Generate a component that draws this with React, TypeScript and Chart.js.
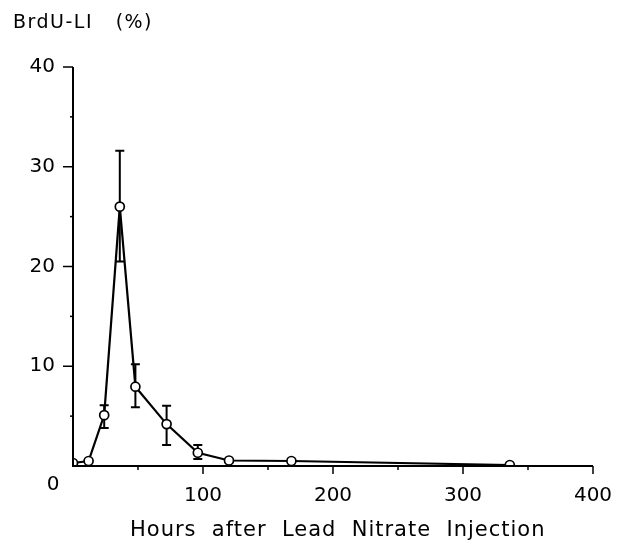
import React, { useEffect, useRef } from "react";
import { Chart, registerables } from "chart.js";

Chart.register(...registerables);

const hours = [0, 12, 24, 36, 48, 72, 96, 120, 168, 336];
const brduLI = [0.3, 0.5, 5.1, 26.0, 7.95, 4.2, 1.33, 0.55, 0.5, 0.1];
const errUpper = [null, null, 6.1, 31.6, 10.2, 6.05, 2.1, null, null, null];
const errLower = [null, null, 3.8, 20.5, 5.9, 2.1, 0.7, null, null, null];
const xTickLabels = [100, 200, 300, 400];
const yTickLabels = [10, 20, 30, 40];
const yTitle = "BrdU-LI   (%)";
const xTitle = "Hours  after  Lead  Nitrate  Injection";

const FONT = "'DejaVu Sans', sans-serif";

const decor = {
  id: "decor",
  beforeDatasetsDraw(chart: any) {
    const ctx = chart.ctx;
    const xs = chart.scales.x;
    const ys = chart.scales.y;
    ctx.save();
    ctx.strokeStyle = "#000";
    ctx.lineWidth = 2;
    hours.forEach((h, i) => {
      const px = xs.getPixelForValue(h);
      const py = ys.getPixelForValue(brduLI[i]);
      const up = errUpper[i];
      const lo = errLower[i];
      const cap = 4.5;
      if (up != null) {
        const pu = ys.getPixelForValue(up);
        ctx.beginPath();
        ctx.moveTo(px, py);
        ctx.lineTo(px, pu);
        ctx.moveTo(px - cap, pu);
        ctx.lineTo(px + cap, pu);
        ctx.stroke();
      }
      if (lo != null) {
        const pl = ys.getPixelForValue(lo);
        ctx.beginPath();
        ctx.moveTo(px, py);
        ctx.lineTo(px, pl);
        ctx.moveTo(px - cap, pl);
        ctx.lineTo(px + cap, pl);
        ctx.stroke();
      }
    });
    ctx.restore();
  },
  afterDraw(chart: any) {
    const ctx = chart.ctx;
    const xs = chart.scales.x;
    const ys = chart.scales.y;
    const left = chart.chartArea.left;
    const bottom = chart.chartArea.bottom;
    ctx.save();
    ctx.strokeStyle = "#000";
    ctx.lineWidth = 2;
    ctx.beginPath();
    ctx.moveTo(left, ys.getPixelForValue(40));
    ctx.lineTo(left, bottom);
    ctx.lineTo(xs.getPixelForValue(400), bottom);
    ctx.stroke();
    ctx.lineWidth = 1.5;
    for (let v = 5; v <= 40; v += 5) {
      const py = ys.getPixelForValue(v);
      const len = v % 10 === 0 ? 10 : 3;
      ctx.beginPath();
      ctx.moveTo(left, py);
      ctx.lineTo(left - len, py);
      ctx.stroke();
    }
    for (let v = 50; v <= 400; v += 50) {
      const px = xs.getPixelForValue(v);
      const len = v % 100 === 0 ? 8 : 4;
      ctx.beginPath();
      ctx.moveTo(px, bottom);
      ctx.lineTo(px, bottom + len);
      ctx.stroke();
    }
    ctx.fillStyle = "#000";
    ctx.font = `20px ${FONT}`;
    ctx.textAlign = "center";
    ctx.textBaseline = "middle";
    ctx.fillText("0", left - 20, bottom + 19);
    ctx.letterSpacing = "1.5px";
    ctx.font = `19px ${FONT}`;
    ctx.textAlign = "left";
    ctx.fillText(yTitle, 13, 23);
    ctx.letterSpacing = "1px";
    ctx.font = `21px ${FONT}`;
    ctx.textAlign = "left";
    ctx.fillText(xTitle, 130, 531);
    ctx.restore();
  },
};

export default function App() {
  const ref = useRef<HTMLCanvasElement>(null);
  useEffect(() => {
    if (!ref.current) return;
    const chart = new Chart(ref.current, {
      type: "line",
      data: {
        datasets: [
          {
            data: hours.map((h, i) => ({ x: h, y: brduLI[i] })),
            borderColor: "#000",
            borderWidth: 2.2,
            pointRadius: 4.5,
            pointBorderWidth: 1.7,
            pointBackgroundColor: "#fff",
            pointBorderColor: "#000",
            tension: 0,
          },
        ],
      },
      plugins: [decor],
      options: {
        animation: false,
        responsive: false,
        devicePixelRatio: 1,
        layout: { autoPadding: false, padding: { left: 0, right: 24, top: 67, bottom: 0 } },
        plugins: { legend: { display: false }, tooltip: { enabled: false } },
        scales: {
          x: {
            type: "linear",
            min: 0,
            max: 400,
            grid: { display: false, drawTicks: false, tickLength: 0 },
            border: { display: false },
            afterFit: (s: any) => {
              s.height = 548 - 466;
              s.paddingLeft = 0;
              s.paddingRight = 0;
            },
            ticks: {
              stepSize: 100,
              padding: 18,
              color: "#000",
              font: { family: FONT, size: 20 },
              callback: (v: any) => (xTickLabels.includes(v) ? String(v) : ""),
            },
          },
          y: {
            min: 0,
            max: 40,
            grid: { display: false, drawTicks: false, tickLength: 0 },
            border: { display: false },
            afterFit: (s: any) => {
              s.width = 73;
              s.paddingTop = 0;
              s.paddingBottom = 0;
            },
            ticks: {
              stepSize: 10,
              padding: 18,
              color: "#000",
              font: { family: FONT, size: 20 },
              callback: (v: any) => (yTickLabels.includes(v) ? String(v) : ""),
            },
          },
        },
      },
    });
    return () => chart.destroy();
  }, []);
  return (
    <div style={{ position: "fixed", left: 0, top: 0, width: 617, height: 548, background: "#fff" }}>
      <canvas ref={ref} width={617} height={548} />
    </div>
  );
}
